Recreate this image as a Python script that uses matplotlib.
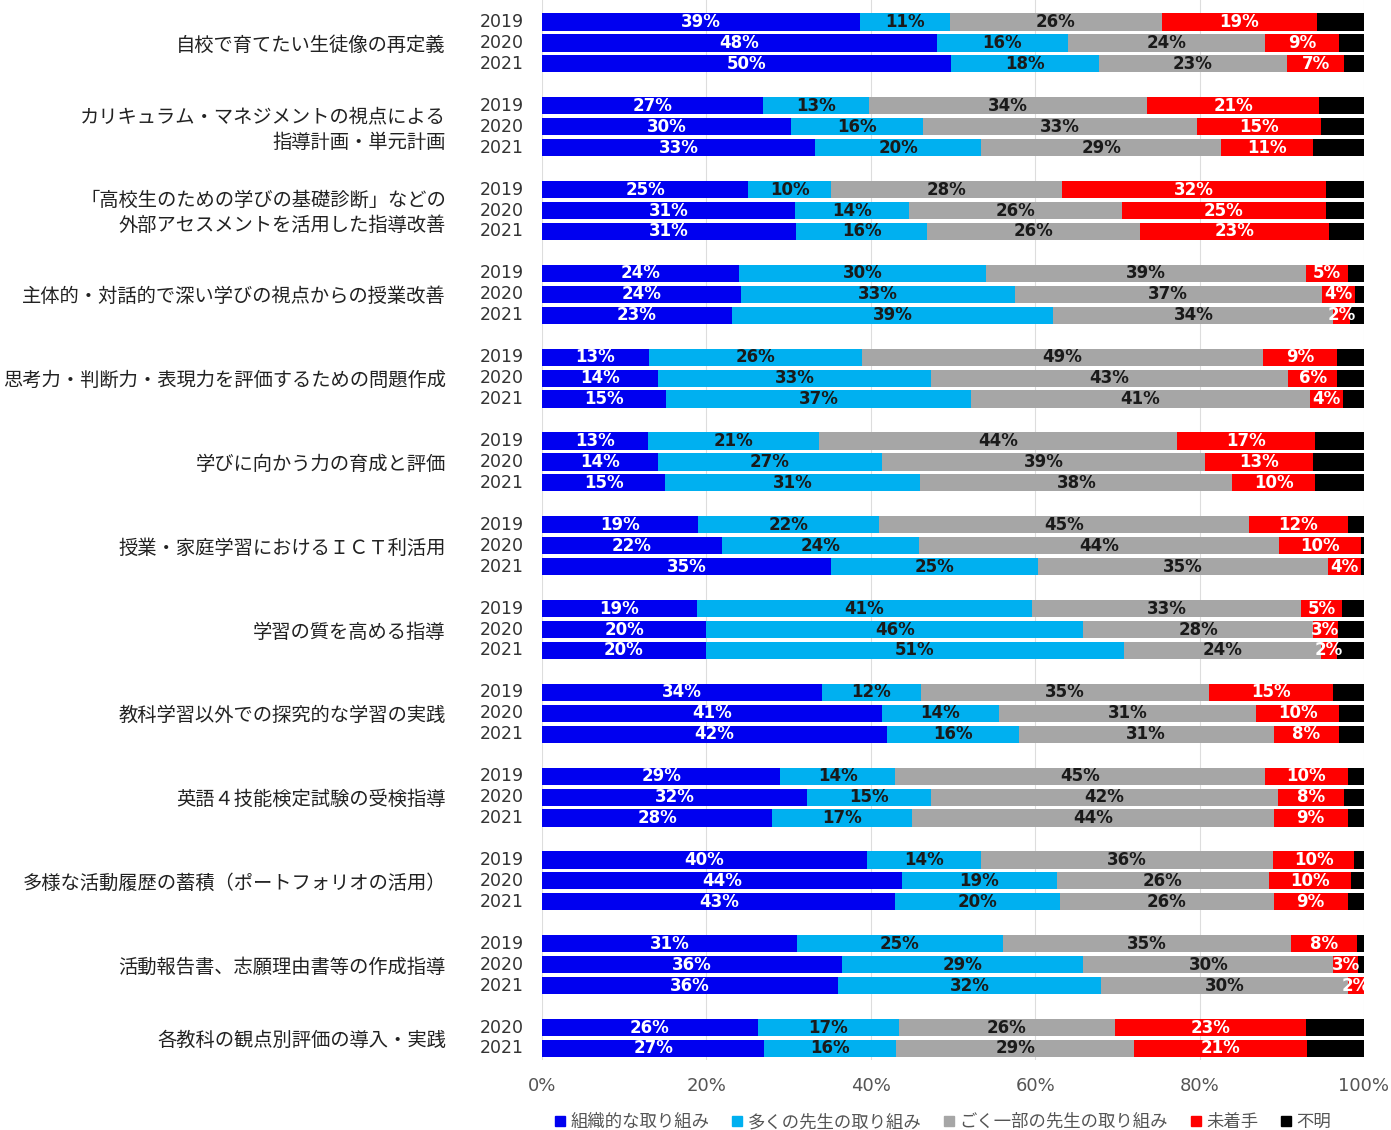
import matplotlib
matplotlib.use("Agg")
import matplotlib.pyplot as plt
from matplotlib.lines import Line2D
import numpy as np

plt.rcParams["font.family"] = ["Noto Sans CJK JP", "DejaVu Sans"]

categories = [
    "自校で育てたい生徒像の再定義",
    "カリキュラム・マネジメントの視点による\n指導計画・単元計画",
    "「高校生のための学びの基礎診断」などの\n外部アセスメントを活用した指導改善",
    "主体的・対話的で深い学びの視点からの授業改善",
    "思考力・判断力・表現力を評価するための問題作成",
    "学びに向かう力の育成と評価",
    "授業・家庭学習におけるＩＣＴ利活用",
    "学習の質を高める指導",
    "教科学習以外での探究的な学習の実践",
    "英語４技能検定試験の受検指導",
    "多様な活動履歴の蓄積（ポートフォリオの活用）",
    "活動報告書、志願理由書等の作成指導",
    "各教科の観点別評価の導入・実践",
]
years = [["2019", "2020", "2021"]] * 12 + [["2020", "2021"]]

organized = [[39, 48, 50], [27, 30, 33], [25, 31, 31], [24, 24, 23], [13, 14, 15],
             [13, 14, 15], [19, 22, 35], [19, 20, 20], [34, 41, 42], [29, 32, 28],
             [40, 44, 43], [31, 36, 36], [26, 27]]
many = [[11, 16, 18], [13, 16, 20], [10, 14, 16], [30, 33, 39], [26, 33, 37],
        [21, 27, 31], [22, 24, 25], [41, 46, 51], [12, 14, 16], [14, 15, 17],
        [14, 19, 20], [25, 29, 32], [17, 16]]
few = [[26, 24, 23], [34, 33, 29], [28, 26, 26], [39, 37, 34], [49, 43, 41],
       [44, 39, 38], [45, 44, 35], [33, 28, 24], [35, 31, 31], [45, 42, 44],
       [36, 26, 26], [35, 30, 30], [26, 29]]
not_started = [[19, 9, 7], [21, 15, 11], [32, 25, 23], [5, 4, 2], [9, 6, 4],
               [17, 13, 10], [12, 10, 4], [5, 3, 2], [15, 10, 8], [10, 8, 9],
               [10, 10, 9], [8, 3, 2], [23, 21]]
# unlabelled "不明" share, estimated
unknown = [[5.8, 3.0, 2.4], [5.5, 5.2, 6.2], [4.6, 4.7, 4.3], [2.0, 1.1, 1.7],
           [3.3, 3.2, 2.6], [6.0, 6.2, 6.0], [2.0, 0.4, 0.4], [2.7, 3.2, 3.3],
           [3.8, 3.0, 3.0], [2.0, 2.4, 2.0], [1.2, 1.6, 2.0], [0.9, 0.7, 0.0],
           [7.0, 6.9]]

series_names = ["組織的な取り組み", "多くの先生の取り組み", "ごく一部の先生の取り組み", "未着手", "不明"]
colors = ["#0000F0", "#00B0F0", "#A6A6A6", "#FF0000", "#000000"]
text_colors = ["white", "#1a1a1a", "#1a1a1a", "white", None]

fig = plt.figure(figsize=(13.91, 11.30), dpi=100)
ax = fig.add_axes([542 / 1391, 1 - 1060 / 1130, 822 / 1391, 1060 / 1130])

for g, cat in enumerate(categories):
    ys = [g * 4 + r for r in range(len(years[g]))]
    for r, y in enumerate(ys):
        vals = [organized[g][r], many[g][r], few[g][r], not_started[g][r], unknown[g][r]]
        scale = 100 / sum(vals)          # 100% stacked: each row fills the axis
        left = 0
        for k, v in enumerate(vals):
            w = v * scale
            ax.barh(y, w, left=left, height=0.82, color=colors[k], zorder=2)
            if text_colors[k]:
                ax.text(left + w / 2, y, f"{v}%", ha="center", va="center",
                        color=text_colors[k], fontsize=12, fontweight="bold",
                        family="DejaVu Sans", zorder=3)
            left += w
        ax.text(-0.022, y, years[g][r], transform=ax.get_yaxis_transform(),
                ha="right", va="center", fontsize=12.5, color="#333333",
                family="DejaVu Sans")
    ax.text(-0.117, np.mean(ys) + 0.12, cat, transform=ax.get_yaxis_transform(),
            ha="right", va="center", fontsize=13.9, color="#222222", linespacing=1.3)

ax.set_xlim(0, 100)
ax.set_ylim(49.55, -1.05)
ax.set_yticks([])
ax.set_xticks([0, 20, 40, 60, 80, 100])
ax.set_xticklabels([f"{t}%" for t in [0, 20, 40, 60, 80, 100]],
                   family="DejaVu Sans", fontsize=13, color="#555555")
ax.tick_params(axis="x", length=0, pad=12)
ax.grid(axis="x", color="#DDDDDD", lw=0.8, zorder=0)
for s in ax.spines.values():
    s.set_visible(False)

handles = [Line2D([], [], marker="s", ls="", color=c, markersize=7) for c in colors]
fig.legend(handles, series_names, loc="center", bbox_to_anchor=(0.678, 0.007),
           ncol=5, frameon=False, fontsize=12.5, handlelength=0.6,
           handletextpad=0.3, columnspacing=1.3, labelcolor="#555555")

fig.savefig("out.png", dpi=100)
